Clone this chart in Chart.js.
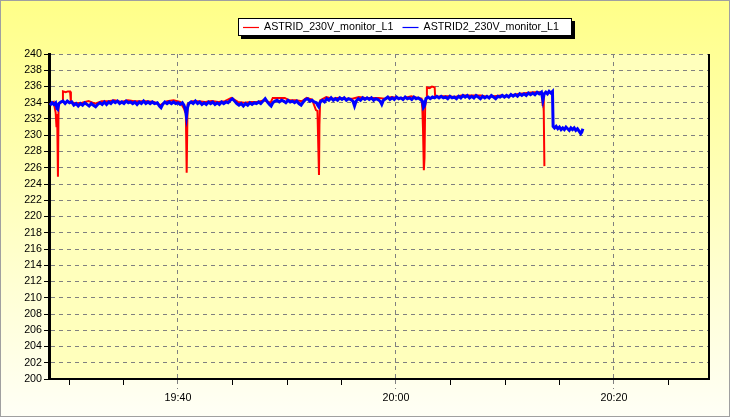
<!DOCTYPE html>
<html lang="en">
<head>
    <meta charset="UTF-8">
    <title>ASTRID 230V monitor</title>
    <script src="https://cdn.jsdelivr.net/npm/chart.js@4/dist/chart.umd.min.js"></script>
    <style>
        body { margin: 0; }
    </style>
</head>
<body>
    <canvas id="voltChart" width="730" height="417"></canvas>

    <script>
        // x values are minutes after 19:00, y values are volts
        const seriesLabels = ['ASTRID_230V_monitor_L1', 'ASTRID2_230V_monitor_L1'];
        const seriesColors = ['#ff0000', '#0000ff'];

        const redReadings = [
            [28.26,233.8],[28.6,234.1],[28.78,232.8],[28.86,231.0],[28.92,232.6],[28.99,224.9],[29.05,233.9],[29.4,234.1],
            [29.45,235.4],[29.7,235.3],[29.9,235.4],[30.1,235.4],[30.18,234.1],[30.6,233.9],[31.2,234.0],[31.8,234.2],
            [32.4,233.9],[33.0,234.2],[33.6,234.2],[34.2,234.3],[34.8,234.1],[35.4,234.3],[36.0,234.2],[36.6,234.2],
            [37.2,234.2],[37.8,234.1],[38.4,233.7],[39.0,234.2],[39.6,234.3],[40.2,234.1],[40.55,233.3],[40.65,232.9],
            [40.72,233.4],[40.8,225.4],[40.88,233.8],[41.3,234.2],[41.9,234.2],[42.5,234.1],[43.1,234.2],[43.7,234.1],
            [44.3,234.2],[44.9,234.6],[45.5,234.1],[46.1,234.0],[46.7,234.1],[47.3,234.1],[47.9,234.3],[48.5,234.0],
            [48.7,234.6],[49.3,234.6],[49.8,234.6],[50.2,234.3],[50.8,234.3],[51.4,234.2],[51.8,234.6],[52.3,234.4],
            [52.66,233.1],[52.8,233.0],[52.88,228.4],[52.94,225.1],[52.98,231.3],[53.05,234.3],[53.6,234.7],[54.2,234.5],
            [54.8,234.6],[55.4,234.5],[56.0,234.5],[56.6,234.7],[57.2,234.6],[57.8,234.6],[58.4,234.6],[59.0,234.5],
            [59.6,234.7],[60.2,234.6],[60.8,234.6],[61.4,234.8],[62.0,234.6],[62.35,234.5],[62.42,233.3],[62.48,230.9],
            [62.56,225.7],[62.62,227.2],[62.68,233.6],[62.8,234.6],[62.84,235.9],[63.1,235.8],[63.3,236.0],[63.55,235.9],
            [63.6,234.7],[64.2,234.8],[64.8,234.8],[65.4,234.7],[66.0,234.9],[66.6,234.9],[67.2,234.9],[67.8,234.9],
            [68.4,234.7],[69.0,234.8],[69.6,234.9],[70.2,234.8],[70.8,235.0],[71.4,235.1],[72.0,235.2],[72.6,235.3],
            [73.2,235.3],[73.42,234.9],[73.46,233.6],[73.5,234.8],[73.56,232.9],[73.62,226.2]
        ];

        const blueReadings = [
            [28.26,233.7],[28.45,234.0],[28.62,233.8],[28.78,234.0],[28.9,233.3],[28.97,233.2],[29.08,233.9],[29.25,234.1],
            [29.45,234.2],[29.65,233.9],[29.85,234.2],[30.05,234.0],[30.25,234.1],[30.45,233.7],[30.65,233.9],[30.85,233.6],
            [31.05,233.9],[31.25,233.7],[31.45,234.0],[31.65,233.8],[31.85,233.6],[32.05,233.9],[32.25,233.7],[32.45,233.5],
            [32.65,233.8],[32.85,234.0],[33.05,233.8],[33.25,234.1],[33.45,233.8],[33.65,234.1],[33.85,233.9],[34.05,234.2],
            [34.25,234.0],[34.45,234.2],[34.65,233.9],[34.85,234.1],[35.05,233.9],[35.25,234.2],[35.45,234.0],[35.65,234.1],
            [35.85,233.9],[36.05,234.1],[36.25,233.8],[36.45,234.1],[36.65,233.9],[36.85,234.2],[37.05,233.9],[37.25,234.1],
            [37.45,233.9],[37.65,234.1],[37.85,233.9],[38.1,234.0],[38.3,233.6],[38.45,233.4],[38.6,233.8],[38.8,234.1],
            [39.0,233.9],[39.2,234.1],[39.4,233.9],[39.6,234.1],[39.8,233.9],[40.0,234.0],[40.2,233.8],[40.4,234.0],
            [40.55,233.7],[40.68,233.2],[40.78,232.3],[40.88,233.4],[41.0,233.9],
            [41.2,234.1],[41.4,233.9],[41.6,234.2],[41.8,233.9],[42.0,234.1],[42.2,233.8],[42.4,234.0],[42.6,233.8],
            [42.8,234.1],[43.0,233.9],[43.2,234.1],[43.4,233.8],[43.6,234.0],[43.8,233.8],[44.0,234.1],[44.2,233.9],
            [44.4,234.1],[44.6,234.0],[44.8,234.3],[45.0,234.5],[45.2,234.2],[45.4,233.9],[45.6,233.7],[45.8,233.9],
            [46.0,233.6],[46.2,233.9],[46.4,233.7],[46.6,234.0],[46.8,233.8],[47.0,234.0],[47.2,233.9],[47.4,234.1],
            [47.6,233.9],[47.8,234.2],[48.0,234.5],[48.2,234.1],[48.4,233.8],[48.55,233.6],[48.7,234.0],[48.9,234.2],
            [49.1,234.3],[49.3,234.1],[49.5,234.3],[49.7,234.2],[49.9,234.0],[50.1,234.3],[50.3,234.1],[50.5,234.2],
            [50.7,234.0],[50.9,234.2],[51.1,233.9],[51.3,233.7],[51.5,234.1],[51.7,234.4],[51.9,234.5],[52.1,234.2],
            [52.3,234.3],[52.5,234.1],[52.7,234.0],[52.82,233.7],[52.92,233.5],[53.05,234.1],
            [53.25,234.3],[53.45,234.1],[53.65,234.5],[53.85,234.3],[54.05,234.6],[54.25,234.3],[54.45,234.5],[54.65,234.3],
            [54.85,234.6],[55.05,234.4],[55.25,234.6],[55.45,234.3],[55.65,234.5],[55.85,234.4],[56.05,234.2],[56.2,233.6],
            [56.35,234.2],[56.55,234.5],[56.75,234.3],[56.95,234.6],[57.15,234.4],[57.35,234.6],[57.55,234.4],[57.75,234.6],
            [57.95,234.3],[58.15,234.5],[58.35,234.4],[58.55,234.2],[58.7,233.8],[58.85,234.3],[59.05,234.5],[59.25,234.7],
            [59.45,234.4],[59.65,234.6],[59.85,234.4],[60.05,234.7],[60.25,234.5],[60.45,234.6],[60.65,234.4],[60.85,234.7],
            [61.05,234.5],[61.25,234.6],[61.45,234.4],[61.65,234.7],[61.85,234.5],[62.05,234.6],[62.25,234.4],[62.42,234.2],
            [62.52,233.4],[62.62,233.6],[62.75,234.5],[62.95,234.7],[63.15,234.5],[63.35,234.7],[63.55,234.6],[63.75,234.8],
            [63.95,234.6],[64.15,234.8],[64.35,234.6],[64.55,234.7],[64.75,234.5],[64.95,234.8],[65.15,234.6],[65.35,234.7],
            [65.55,234.5],[65.75,234.8],[65.95,234.6],[66.15,234.9],[66.35,234.7],[66.55,234.9],[66.75,234.6],[66.95,234.8],
            [67.15,234.6],[67.35,234.9],[67.55,234.7],[67.75,234.5],[67.95,234.8],[68.15,234.6],[68.35,234.8],[68.55,234.6],
            [68.75,234.9],[68.95,234.7],[69.15,234.5],[69.35,234.8],[69.55,234.7],[69.75,234.9],[69.95,234.7],[70.15,234.9],
            [70.35,234.7],[70.55,235.0],[70.75,234.8],[70.95,235.0],[71.15,234.8],[71.35,235.1],[71.55,234.9],[71.75,235.1],
            [71.95,234.9],[72.15,235.2],[72.35,235.0],[72.55,235.2],[72.75,235.0],[72.95,235.3],[73.15,235.1],[73.35,235.3],
            [73.48,234.3],[73.6,235.1],[73.75,235.3],[73.9,235.1],[74.05,235.4],[74.2,235.2],[74.36,235.4],[74.42,231.1],
            [74.55,230.9],[74.7,231.1],[74.85,230.8],[75.0,231.0],[75.15,230.7],[75.3,230.9],[75.45,230.7],[75.6,231.0],
            [75.75,230.8],[75.9,230.6],[76.05,230.9],[76.2,230.7],[76.35,230.9],[76.5,230.6],[76.65,230.8],[76.8,230.5],
            [76.95,230.2],[77.05,230.4],[77.15,230.8]
        ];

        const xMin = 28.17, xMax = 88.72;
        const xMajorTicks = [40, 60, 80];              // 19:40, 20:00, 20:20
        const xMinorTicks = [30, 35, 45, 50, 55, 65, 70, 75, 85];
        const yMin = 200, yMax = 240, yStep = 2;

        const labelFont = { family: '"Liberation Sans", Arial, sans-serif', size: 10.7 };

        function timeLabel(v) {
            const h = 19 + Math.floor(v / 60);
            const m = Math.round(v % 60);
            return h + ':' + String(m).padStart(2, '0');
        }

        const paperPlugin = {
            id: 'paper',
            beforeDraw(chart) {
                const { ctx, width, height, chartArea: a } = chart;
                ctx.save();
                const g = ctx.createLinearGradient(0, 0, 0, height);
                g.addColorStop(0, '#ffff88');
                g.addColorStop(1, '#fffff6');
                ctx.fillStyle = g;
                ctx.fillRect(0, 0, width, height);
                ctx.fillStyle = '#ffffbc';
                ctx.fillRect(a.left, a.top, a.right - a.left, a.bottom - a.top);
                ctx.strokeStyle = '#a0a0a0';
                ctx.lineWidth = 1;
                ctx.strokeRect(0.5, 0.5, width - 1, height - 1);
                ctx.restore();
            },
            afterDraw(chart) {
                const { ctx, chartArea: a } = chart;
                const xs = chart.scales.x;
                ctx.save();
                ctx.setLineDash([]);
                // right frame
                ctx.strokeStyle = '#000';
                ctx.lineWidth = 2;
                ctx.beginPath();
                ctx.moveTo(a.right, a.top);
                ctx.lineTo(a.right, a.bottom + 1);
                ctx.stroke();
                // minor x ticks
                ctx.lineWidth = 1;
                xMinorTicks.forEach(v => {
                    const px = Math.round(xs.getPixelForValue(v)) + 0.5;
                    ctx.beginPath();
                    ctx.moveTo(px, a.bottom);
                    ctx.lineTo(px, a.bottom + 6);
                    ctx.stroke();
                });
                // legend box with shadow
                const lx = 238, ly = 18, lw = 334, lh = 18;
                ctx.fillStyle = '#000';
                ctx.fillRect(lx + 3, ly + 3, lw, lh);
                ctx.fillStyle = '#fff';
                ctx.fillRect(lx, ly, lw, lh);
                ctx.strokeStyle = '#000';
                ctx.strokeRect(lx + 0.5, ly + 0.5, lw - 1, lh - 1);
                ctx.font = '10.7px "Liberation Sans", Arial, sans-serif';
                ctx.textBaseline = 'middle';
                let x = lx + 5;
                seriesLabels.forEach((label, i) => {
                    ctx.strokeStyle = seriesColors[i];
                    ctx.lineWidth = 1.2;
                    ctx.beginPath();
                    ctx.moveTo(x, ly + 9.5);
                    ctx.lineTo(x + 16, ly + 9.5);
                    ctx.stroke();
                    ctx.fillStyle = '#000';
                    ctx.fillText(label, x + 21, ly + 9.5);
                    x += 21 + ctx.measureText(label).width + 9;
                });
                ctx.restore();
            }
        };

        const ctx = document.getElementById('voltChart').getContext('2d');
        const voltChart = new Chart(ctx, {
            type: 'line',
            data: {
                datasets: [{
                    label: seriesLabels[0],
                    data: redReadings.map(p => ({ x: p[0], y: p[1] })),
                    borderColor: seriesColors[0],
                    borderWidth: 2,
                    pointRadius: 0,
                    tension: 0,
                    order: 1
                }, {
                    label: seriesLabels[1],
                    data: blueReadings.map(p => ({ x: p[0], y: p[1] })),
                    borderColor: seriesColors[1],
                    borderWidth: 3,
                    pointRadius: 0,
                    tension: 0,
                    order: 0
                }]
            },
            options: {
                responsive: false,
                animation: false,
                events: [],
                layout: { padding: { top: 54, right: 21, bottom: 0, left: 0 } },
                plugins: {
                    legend: { display: false },
                    tooltip: { enabled: false }
                },
                scales: {
                    x: {
                        type: 'linear',
                        min: xMin,
                        max: xMax,
                        afterBuildTicks: s => { s.ticks = xMajorTicks.map(v => ({ value: v })); },
                        afterFit: s => { s.height = 38; },
                        ticks: {
                            autoSkip: false,
                            maxRotation: 0,
                            padding: 3,
                            color: '#000',
                            font: labelFont,
                            callback: v => timeLabel(v)
                        },
                        grid: {
                            color: '#808080',
                            lineWidth: 1,
                            tickLength: 10,
                            tickColor: '#808080',
                            tickBorderDash: [4, 4]
                        },
                        border: { color: '#000', width: 2, dash: [4, 4] }
                    },
                    y: {
                        min: yMin,
                        max: yMax,
                        afterFit: s => { s.width = 49; },
                        ticks: {
                            stepSize: yStep,
                            padding: 2,
                            color: '#000',
                            font: labelFont
                        },
                        grid: {
                            color: '#808080',
                            lineWidth: 1,
                            tickLength: 5,
                            tickColor: '#000',
                            tickBorderDash: []
                        },
                        border: { color: '#000', width: 3, dash: [4, 4] }
                    }
                }
            },
            plugins: [paperPlugin]
        });
    </script>
</body>
</html>
